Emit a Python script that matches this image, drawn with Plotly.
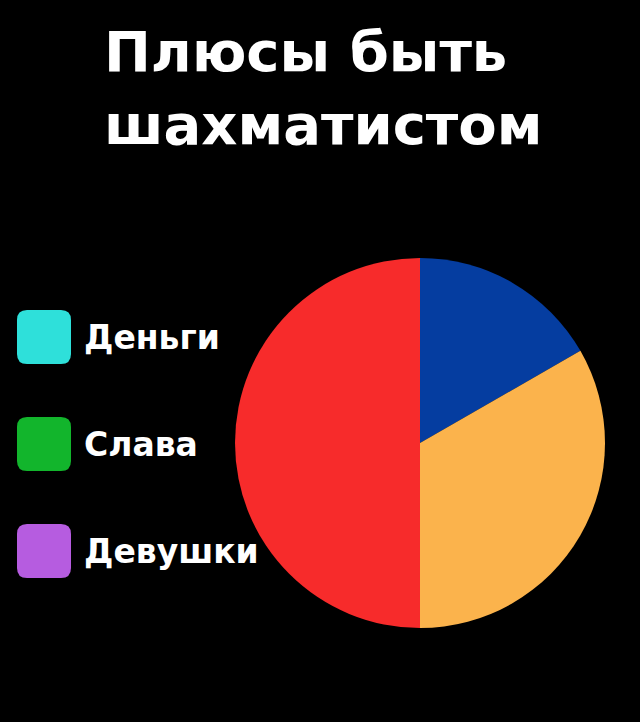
import plotly.graph_objects as go

W, H = 640, 722

# Pie data (shares of the circle)
pie_labels = ["Синий", "Жёлтый", "Красный"]
pie_values = [16.7, 33.3, 50.0]
pie_colors = ["#053da0", "#fbb34c", "#f72b2b"]

# Legend (joke legend – not tied to the pie)
legend_labels = ["Деньги", "Слава", "Девушки"]
legend_colors = ["#2ee0da", "#12b52c", "#b65ce0"]

title_lines = ["Плюсы быть", "шахматистом"]

def px(x):
    return x / W

def py(y):
    return 1 - y / H

fig = go.Figure()

cx, cy, r = 420, 443, 185
fig.add_trace(go.Pie(
    labels=pie_labels,
    values=pie_values,
    marker=dict(colors=pie_colors, line=dict(width=0)),
    sort=False,
    direction="clockwise",
    rotation=0,
    textinfo="none",
    hoverinfo="skip",
    showlegend=False,
    domain=dict(x=[px(cx - r), px(cx + r)], y=[py(cy + r), py(cy - r)]),
))

shapes = []
annotations = []

# Title
annotations.append(dict(
    text="<br>".join(title_lines),
    x=px(102), y=py(88), xref="paper", yref="paper",
    xanchor="left", yanchor="middle", align="left",
    showarrow=False,
    font=dict(family="DejaVu Sans", size=56, color="white", weight="bold"),
))

# Legend squares and labels
sq = 54
rad = 10
x0 = 17
centers = [337, 444, 551]
for lab, col, c in zip(legend_labels, legend_colors, centers):
    left, right = x0, x0 + sq
    top, bot = c - sq / 2, c + sq / 2
    pts = [
        ("M", left + rad, top),
        ("L", right - rad, top),
        ("Q", right, top, right, top + rad),
        ("L", right, bot - rad),
        ("Q", right, bot, right - rad, bot),
        ("L", left + rad, bot),
        ("Q", left, bot, left, bot - rad),
        ("L", left, top + rad),
        ("Q", left, top, left + rad, top),
    ]
    path = ""
    for p in pts:
        cmd = p[0]
        coords = p[1:]
        parts = []
        for i in range(0, len(coords), 2):
            parts.append(f"{px(coords[i]):.5f},{py(coords[i+1]):.5f}")
        path += cmd + " " + " ".join(parts) + " "
    path += "Z"
    shapes.append(dict(type="path", path=path, xref="paper", yref="paper",
                       fillcolor=col, line=dict(width=0)))
    annotations.append(dict(
        text=lab, x=px(82), y=py(c), xref="paper", yref="paper",
        xanchor="left", yanchor="middle", showarrow=False,
        font=dict(family="DejaVu Sans", size=33, color="white", weight="bold"),
    ))

fig.update_layout(
    width=W, height=H,
    margin=dict(l=0, r=0, t=0, b=0),
    paper_bgcolor="#000000",
    plot_bgcolor="#000000",
    shapes=shapes,
    annotations=annotations,
    hovermode=False,
)

fig.write_html("out.html", config={"displayModeBar": False})

# remove the default page margin so the figure fills the window
with open("out.html", "r", encoding="utf-8") as f:
    html = f.read()
html = html.replace("<body>", '<body style="margin:0;background:#000000;">', 1)
with open("out.html", "w", encoding="utf-8") as f:
    f.write(html)
